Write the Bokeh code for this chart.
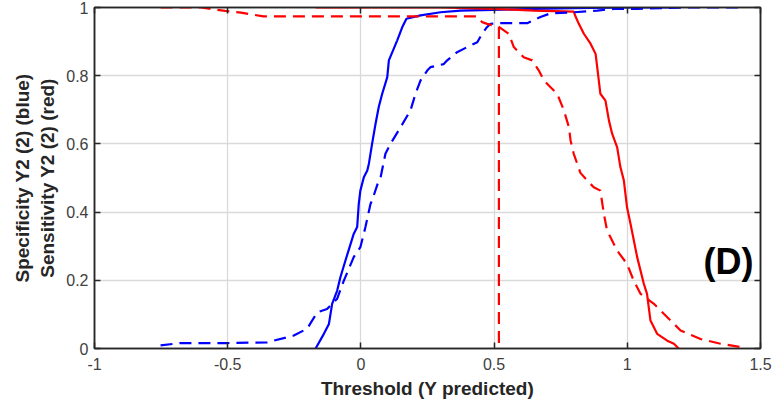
from bokeh.plotting import figure
from bokeh.models import Range1d, FixedTicker, LinearAxis, Label
from bokeh.embed import file_html
from bokeh.resources import INLINE

# ---- data ----
x_ticks = [-1, -0.5, 0, 0.5, 1, 1.5]
x_tick_labels = ["-1", "-0.5", "0", "0.5", "1", "1.5"]
y_ticks = [0, 0.2, 0.4, 0.6, 0.8, 1]
y_tick_labels = ["0", "0.2", "0.4", "0.6", "0.8", "1"]

# Specificity, model 1 (blue solid)
spec1_x = [-0.170, -0.139, -0.120, -0.108, -0.089, -0.077, -0.058, -0.027, -0.014, -0.008,
           -0.002, 0.011, 0.024, 0.030, 0.042, 0.055, 0.067, 0.080, 0.099, 0.105,
           0.136, 0.155, 0.171, 0.224, 0.299, 0.374, 0.499, 0.650, 0.800, 1.000, 1.200]
spec1_y = [0.000, 0.043, 0.072, 0.131, 0.170, 0.209, 0.258, 0.336, 0.356, 0.424,
           0.463, 0.502, 0.522, 0.542, 0.600, 0.659, 0.708, 0.747, 0.796, 0.845,
           0.903, 0.942, 0.967, 0.977, 0.986, 0.991, 0.993, 0.996, 0.998, 1.000, 1.000]

# Sensitivity, model 1 (red solid)
sens1_x = [-0.170, 0.300, 0.500, 0.650, 0.799, 0.805, 0.818, 0.837, 0.862, 0.881,
           0.887, 0.899, 0.918, 0.931, 0.943, 0.962, 0.974, 0.987, 0.999, 1.012,
           1.037, 1.062, 1.074, 1.087, 1.112, 1.150, 1.175, 1.193]
sens1_y = [1.000, 1.000, 0.996, 0.991, 0.988, 0.975, 0.952, 0.923, 0.894, 0.864,
           0.825, 0.747, 0.727, 0.669, 0.630, 0.590, 0.532, 0.493, 0.414, 0.366,
           0.268, 0.190, 0.160, 0.082, 0.043, 0.023, 0.014, 0.000]

# Specificity, model 2 (blue dashed)
spec2_x = [-0.752, -0.677, -0.502, -0.352, -0.252, -0.202, -0.164, -0.127, -0.089, -0.064,
           -0.027, -0.002, 0.017, 0.036, 0.042, 0.067, 0.074, 0.092, 0.111, 0.149,
           0.186, 0.205, 0.224, 0.249, 0.261, 0.311, 0.324, 0.361, 0.399, 0.437,
           0.455, 0.474, 0.486, 0.524, 0.624, 0.674, 0.712, 0.799, 0.887, 0.950,
           1.037, 1.200, 1.425]
spec2_y = [0.009, 0.016, 0.016, 0.018, 0.038, 0.058, 0.106, 0.116, 0.146, 0.199,
           0.268, 0.297, 0.356, 0.424, 0.434, 0.493, 0.502, 0.571, 0.600, 0.649,
           0.698, 0.747, 0.786, 0.815, 0.825, 0.834, 0.845, 0.869, 0.884, 0.898,
           0.923, 0.943, 0.952, 0.954, 0.954, 0.972, 0.983, 0.986, 0.991, 0.996,
           0.996, 1.000, 1.000]

# Sensitivity, model 2 (red dashed)
sens2_x = [-0.752, -0.600, -0.510, -0.450, -0.366, 0.423, 0.437, 0.455, 0.474, 0.518,
           0.555, 0.574, 0.611, 0.643, 0.668, 0.687, 0.712, 0.737, 0.762, 0.781,
           0.787, 0.799, 0.824, 0.849, 0.874, 0.899, 0.912, 0.924, 0.962, 0.999,
           1.024, 1.050, 1.100, 1.137, 1.200, 1.275, 1.350, 1.425]
sens2_y = [1.000, 1.000, 0.990, 0.985, 0.974, 0.974, 0.974, 0.957, 0.952, 0.943,
           0.923, 0.884, 0.854, 0.845, 0.815, 0.786, 0.766, 0.747, 0.698, 0.649,
           0.610, 0.571, 0.515, 0.493, 0.473, 0.463, 0.395, 0.346, 0.287, 0.248,
           0.199, 0.160, 0.131, 0.102, 0.053, 0.028, 0.014, 0.004]

# Threshold marker (red dashed vertical)
cut_x = [0.518, 0.518]
cut_y = [0.943, 0.0]

panel_tag = "(D)"
x_label = "Threshold (Y predicted)"
y_label = "Specificity Y2 (2) (blue)\nSensitivity Y2 (2) (red)"

# ---- figure ----
FONT = "Liberation Sans"
DARK = "#262626"

p = figure(frame_width=666, frame_height=341,
           x_range=Range1d(-1, 1.5), y_range=Range1d(0, 1),
           output_backend="svg", toolbar_location=None,
           min_border_left=94, min_border_right=14,
           min_border_top=7, min_border_bottom=59)
p.background_fill_color = "white"
p.border_fill_color = "white"
p.outline_line_color = DARK
p.outline_line_width = 1.5

for ax, ticks, labels in ((p.xaxis[0], x_ticks, x_tick_labels), (p.yaxis[0], y_ticks, y_tick_labels)):
    ax.ticker = FixedTicker(ticks=ticks)
    ax.major_label_overrides = {t: l for t, l in zip(ticks, labels)}
    ax.major_tick_in = 6
    ax.major_tick_out = 0
    ax.minor_tick_line_color = None
    ax.major_tick_line_color = DARK
    ax.major_tick_line_width = 1.5
    ax.axis_line_color = DARK
    ax.axis_line_width = 1.5
    ax.major_label_text_font = FONT
    ax.major_label_text_font_size = "16px"
    ax.major_label_text_color = "#404040"
    ax.axis_label_text_font = FONT
    ax.axis_label_text_font_size = "19px"
    ax.axis_label_text_font_style = "bold"
    ax.axis_label_text_color = DARK

p.xaxis[0].axis_label = x_label
p.xaxis[0].major_label_standoff = 9
p.xaxis[0].axis_label_standoff = 5
p.yaxis[0].axis_label = y_label
p.yaxis[0].major_label_standoff = 6
p.yaxis[0].axis_label_standoff = 5

# top and right tick marks only (drawn as minor ticks so no labels exist)
def tick_only_axis(ticks):
    return LinearAxis(ticker=FixedTicker(ticks=[], minor_ticks=ticks),
                      major_label_standoff=0, major_tick_line_color=None,
                      minor_tick_in=6, minor_tick_out=0,
                      minor_tick_line_color=DARK, minor_tick_line_width=1.5,
                      axis_line_color=DARK, axis_line_width=1.5)

p.add_layout(tick_only_axis(x_ticks), "above")
p.add_layout(tick_only_axis(y_ticks), "right")

p.xgrid.ticker = FixedTicker(ticks=x_ticks)
p.ygrid.ticker = FixedTicker(ticks=y_ticks)
for g in (p.xgrid[0], p.ygrid[0]):
    g.grid_line_color = "#d9d9d9"
    g.grid_line_width = 1.3

LW = 2.2
DASH = "12 7"
p.line(spec1_x, spec1_y, color="#0000ff", line_width=LW)
p.line(sens1_x, sens1_y, color="#ff0000", line_width=LW)
p.line(spec2_x, spec2_y, color="#0000ff", line_width=LW, line_dash=DASH)
p.line(sens2_x, sens2_y, color="#ff0000", line_width=LW, line_dash=DASH)
p.line(cut_x, cut_y, color="#ff0000", line_width=LW, line_dash=DASH)

p.add_layout(Label(x=1.474, y=0.255, text=panel_tag, text_align="right",
                   text_baseline="middle", text_font=FONT, text_font_size="36px",
                   text_font_style="bold", text_color="black"))

open("out.html", "w").write(file_html(p, INLINE))
